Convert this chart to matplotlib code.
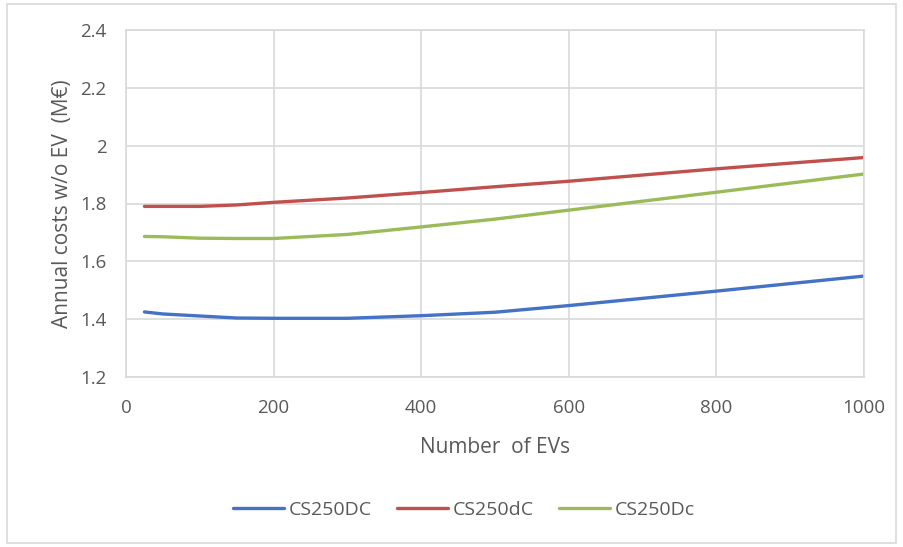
"""Annual costs without EV versus number of EVs."""

import matplotlib

matplotlib.use("Agg")
import matplotlib.pyplot as plt
from matplotlib.patches import Rectangle

n_evs = [25, 50, 100, 150, 200, 300, 400, 500, 600, 800, 1000]
cost_dc_upper = [1.425, 1.418, 1.411, 1.404, 1.403, 1.403, 1.412, 1.424, 1.447, 1.497, 1.549]
cost_dc_lower_d = [1.790, 1.790, 1.790, 1.795, 1.804, 1.819, 1.838, 1.858, 1.877, 1.920, 1.959]
cost_dc_lower_c = [1.686, 1.685, 1.680, 1.679, 1.679, 1.693, 1.719, 1.746, 1.777, 1.839, 1.902]

series_names = ["CS250DC", "CS250dC", "CS250Dc"]
series_colors = ["#4472C4", "#C0504D", "#9BBB59"]

x_ticks = [0, 200, 400, 600, 800, 1000]
y_ticks = [1.2, 1.4, 1.6, 1.8, 2.0, 2.2, 2.4]
y_tick_labels = ["1.2", "1.4", "1.6", "1.8", "2", "2.2", "2.4"]

text_color = "#595959"
grid_color = "#D9D9D9"

plt.rcParams["font.family"] = ["Open Sans", "DejaVu Sans"]

W, H = 904, 547
fig = plt.figure(figsize=(W / 100, H / 100), dpi=100)

# outer chart border
fig.patches.append(
    Rectangle((7 / W, 1 - 543 / H), 889 / W, 539 / H, transform=fig.transFigure,
              fill=False, edgecolor=grid_color, linewidth=1.2)
)

ax = fig.add_axes([126 / W, 1 - 377 / H, (864 - 126) / W, (377 - 30) / H])

for values, name, color in zip(
    [cost_dc_upper, cost_dc_lower_d, cost_dc_lower_c], series_names, series_colors, strict=True
):
    ax.plot(n_evs, values, color=color, linewidth=2.4, solid_capstyle="round", label=name)

ax.set_xlim(0, 1000)
ax.set_ylim(1.2, 2.4)
ax.set_xticks(x_ticks)
ax.set_yticks(y_ticks)
ax.set_yticklabels(y_tick_labels)
ax.grid(True, color=grid_color, linewidth=1.2)
ax.set_axisbelow(True)
for spine in ax.spines.values():
    spine.set_color(grid_color)
    spine.set_linewidth(1.2)

ax.tick_params(length=0, labelsize=13.5, labelcolor=text_color)
ax.tick_params(axis="y", pad=14)
ax.tick_params(axis="x", pad=16)

ax.set_xlabel("Number  of EVs", fontsize=15, color=text_color, labelpad=14)
ax.set_ylabel("Annual costs w/o EV  (M€)", fontsize=15, color=text_color, labelpad=5)

leg = ax.legend(
    loc="center", bbox_to_anchor=(464 / W, 1 - 510 / H), bbox_transform=fig.transFigure,
    ncol=3, frameon=False, fontsize=14, handlelength=2.6, handletextpad=0.25,
    columnspacing=1.3,
)
for text in leg.get_texts():
    text.set_color(text_color)

fig.savefig("out.png", dpi=100)
